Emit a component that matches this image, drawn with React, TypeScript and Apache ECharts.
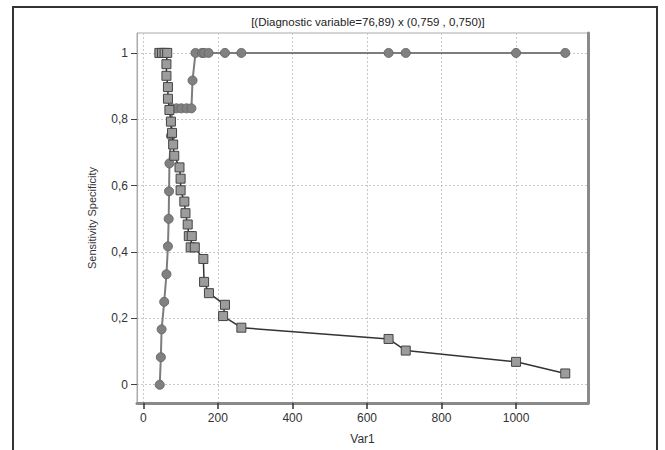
import React, { useEffect, useRef } from "react";
import * as echarts from "echarts";

const titleText = "[(Diagnostic variable=76,89) x (0,759 , 0,750)]";
const xName = "Var1";
const yName = "Sensitivity Specificity";

const sensX = [44, 47, 49, 56, 62, 66, 68, 69, 70, 74, 77, 89, 102, 116, 129, 132, 140, 157, 163, 175, 219, 263, 658, 704, 1000, 1132];
const sensY = [0, 0.083, 0.167, 0.25, 0.333, 0.417, 0.5, 0.583, 0.667, 0.75, 0.833, 0.833, 0.833, 0.833, 0.833, 0.917, 1, 1, 1, 1, 1, 1, 1, 1, 1, 1];

const specX = [43, 50, 57, 64, 62, 62, 66, 66, 70, 74, 77, 80, 83, 97, 100, 100, 110, 113, 119, 122, 130, 127, 138, 161, 163, 176, 219, 214, 263, 658, 704, 1000, 1132];
const specY = [1, 1, 1, 1, 0.966, 0.931, 0.897, 0.862, 0.828, 0.793, 0.759, 0.724, 0.69, 0.655, 0.621, 0.586, 0.552, 0.517, 0.483, 0.448, 0.448, 0.414, 0.414, 0.379, 0.31, 0.276, 0.241, 0.207, 0.172, 0.138, 0.103, 0.069, 0.034];

const yTicks = [0, 0.2, 0.4, 0.6, 0.8, 1];
const xTicks = [0, 200, 400, 600, 800, 1000];

const FONT = "'Liberation Sans Narrow', 'Liberation Sans', Arial, sans-serif";

export default function App() {
  const ref = useRef<HTMLDivElement>(null);
  useEffect(() => {
    if (!ref.current) return;
    const chart = echarts.init(ref.current, null, { renderer: "svg" });
    const sensData = sensX.map((x, i) => [x, sensY[i]]);
    const specData = specX.map((x, i) => [x, specY[i]]);
    chart.setOption({
      animation: false,
      backgroundColor: "#fff",
      textStyle: { fontFamily: FONT },
      title: {
        text: titleText,
        left: 363,
        textAlign: "center",
        top: 11,
        textStyle: { fontFamily: FONT, fontSize: 11.5, fontWeight: "normal", color: "#222" },
      },
      graphic: [
        {
          type: "rect",
          shape: { x: 13, y: 7, width: 644, height: 470 },
          style: { fill: "none", stroke: "#333", lineWidth: 2 },
          silent: true,
        },
      ],
      grid: { left: 137, top: 33, right: 77, bottom: 42, show: true, borderColor: "#aaa", borderWidth: 1 },
      xAxis: {
        type: "value",
        min: -17,
        max: 1193,
        splitNumber: 6,
        name: xName,
        nameLocation: "middle",
        nameGap: 30,
        nameTextStyle: { fontFamily: FONT, fontSize: 12, color: "#333" },
        axisLine: { show: true, onZero: false, lineStyle: { color: "#8a8a8a", width: 3 } },
        axisTick: { show: true, inside: false, length: 6, customValues: xTicks, lineStyle: { color: "#333", width: 1.5 } },
        axisLabel: {
          customValues: xTicks,
          margin: 9,
          fontFamily: FONT,
          fontSize: 12,
          color: "#333",
          formatter: (v: number) => String(v),
        },
        splitLine: { show: true, lineStyle: { color: "#c8c8c8", type: [2, 2], width: 1 } },
      },
      yAxis: [
        {
          type: "value",
          min: -0.055,
          max: 1.06,
          splitNumber: 5,
          name: yName,
          nameLocation: "middle",
          nameGap: 40,
          nameRotate: 90,
          nameTextStyle: { fontFamily: FONT, fontSize: 11, color: "#333" },
          axisLine: { show: true, onZero: false, lineStyle: { color: "#aaa", width: 1 } },
          axisTick: { show: true, inside: false, length: 6, customValues: yTicks, lineStyle: { color: "#444", width: 1 } },
          axisLabel: {
            customValues: yTicks,
            margin: 9,
            fontFamily: FONT,
            fontSize: 12,
            color: "#333",
            formatter: (v: number) => String(Math.round(v * 10) / 10).replace(".", ","),
          },
          splitLine: { show: true, lineStyle: { color: "#c8c8c8", type: [2, 2], width: 1 } },
        },
        {
          type: "value",
          position: "right",
          min: -0.055,
          max: 1.06,
          axisLine: { show: true, onZero: false, lineStyle: { color: "#8a8a8a", width: 3 } },
          axisTick: { show: false },
          axisLabel: { show: false },
          splitLine: { show: false },
        },
      ],
      series: [
        {
          name: "Sensitivity",
          type: "line",
          data: sensData,
          symbol: "circle",
          symbolSize: 9,
          lineStyle: { color: "#7d7d7d", width: 2 },
          itemStyle: { color: "#808080", borderColor: "#6a6a6a", borderWidth: 1 },
          z: 3,
        },
        {
          name: "Specificity",
          type: "line",
          data: specData,
          symbol: "rect",
          symbolSize: 9,
          lineStyle: { color: "#333", width: 1.5 },
          itemStyle: { color: "#9c9c9c", borderColor: "#444", borderWidth: 1 },
          z: 4,
        },
      ],
    });
    return () => chart.dispose();
  }, []);
  return <div ref={ref} style={{ position: "fixed", left: 0, top: 0, width: 665, height: 450 }} />;
}
